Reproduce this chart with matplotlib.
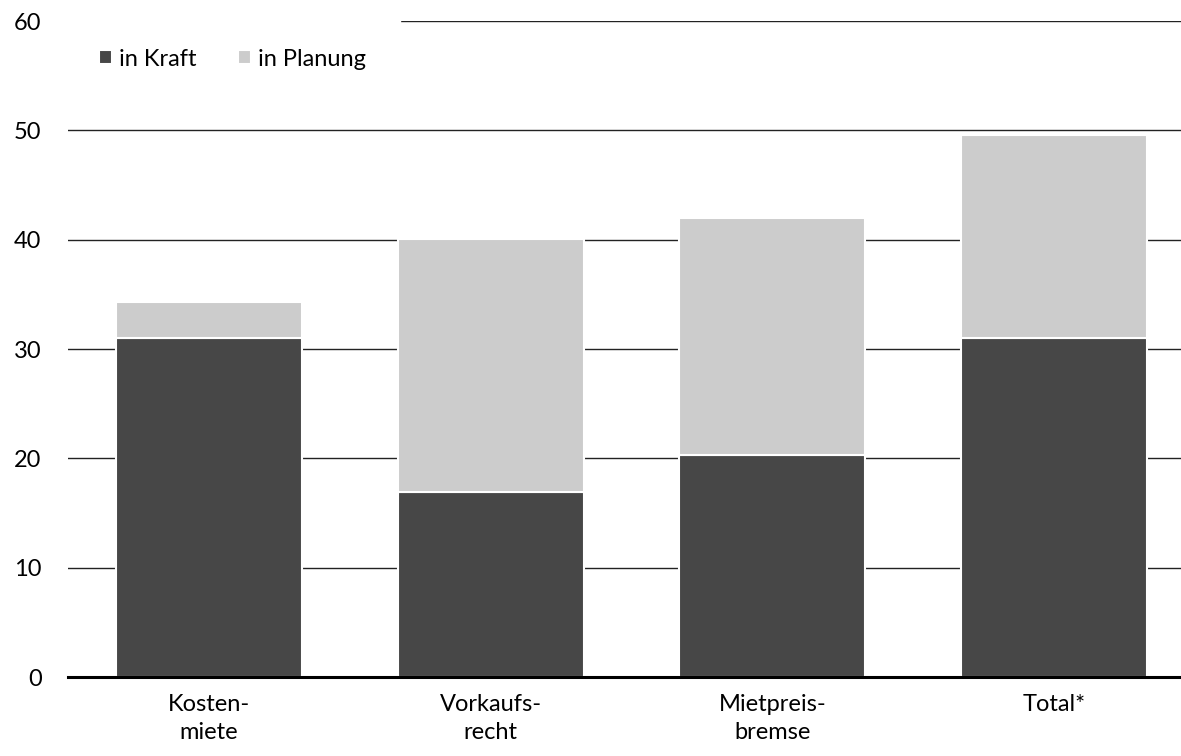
import numpy as np
import matplotlib.pyplot as plt

categories = ["Kosten-\nmiete", "Vorkaufs-\nrecht", "Mietpreis-\nbremse", "Total*"]
in_kraft = [31.0, 16.9, 20.3, 31.0]
in_planung = [3.3, 23.2, 21.7, 18.6]
yticks = [0, 10, 20, 30, 40, 50, 60]

dark = "#474747"
light = "#cccccc"

plt.rcParams["font.family"] = ["Lato", "DejaVu Sans"]

fig = plt.figure(figsize=(11.81, 7.56), dpi=100)
ax = fig.add_axes([68 / 1181, 1 - 677 / 756, 1127 / 1181, 656 / 756])

x = np.arange(len(categories))
ax.bar(x, in_kraft, width=0.66, color=dark, edgecolor="white", linewidth=1.5,
       label="in Kraft", zorder=3)
ax.bar(x, in_planung, width=0.66, bottom=in_kraft, color=light, edgecolor="white",
       linewidth=1.5, label="in Planung", zorder=3)

ax.set_xlim(-0.5, 3.5)
ax.set_ylim(0, 60)
ax.set_yticks(yticks)
ax.set_xticks(x)
ax.set_xticklabels(categories, linespacing=1.45)
ax.tick_params(axis="both", length=0, labelsize=17, colors="black")
ax.tick_params(axis="y", pad=19)
ax.tick_params(axis="x", pad=12)

ax.yaxis.grid(True, color="#222222", linewidth=1.0, zorder=1)
ax.set_axisbelow(True)
for side in ["top", "right", "left"]:
    ax.spines[side].set_visible(False)
ax.spines["bottom"].set_linewidth(2.2)
ax.spines["bottom"].set_color("black")
ax.spines["bottom"].set_zorder(4)

leg = ax.legend(loc="upper left", bbox_to_anchor=(-0.003, 1.01), ncol=2, frameon=True,
                fontsize=17, handlelength=0.55, handleheight=0.55, handletextpad=0.3,
                columnspacing=1.75, borderpad=1.45, borderaxespad=0)
leg.get_frame().set_facecolor("white")
leg.get_frame().set_edgecolor("white")
leg.get_frame().set_alpha(1)
leg.set_zorder(5)

fig.savefig("out.png", dpi=100)
